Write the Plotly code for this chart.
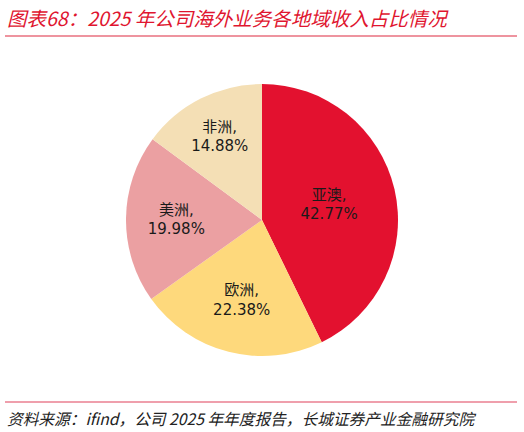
import plotly.graph_objects as go

regions = ["亚澳", "欧洲", "美洲", "非洲"]
shares = [42.77, 22.38, 19.98, 14.88]
colors = ["#E3112F", "#FED97C", "#EBA0A2", "#F4DFB5"]

W, H = 524, 432
cx, cy, r = 262, 220, 136

fig = go.Figure()
fig.add_trace(go.Pie(
    labels=regions,
    values=shares,
    text=[f"{n},<br>{v:.2f}%" for n, v in zip(regions, shares)],
    textinfo="text",
    textposition="inside",
    insidetextorientation="horizontal",
    textfont=dict(family="DejaVu Sans, Noto Sans CJK SC", size=15, color="#1a1a1a"),
    marker=dict(colors=colors, line=dict(width=0)),
    sort=False,
    direction="clockwise",
    rotation=0,
    hole=0,
    domain=dict(x=[(cx - r) / W, (cx + r) / W], y=[(H - cy - r) / H, (H - cy + r) / H]),
    showlegend=False,
))

fig.add_annotation(
    text="<i>图表68：2025 年公司海外业务各地域收入占比情况</i>",
    xref="paper", yref="paper", x=5 / W, y=1 - 17 / H,
    xanchor="left", yanchor="middle", showarrow=False,
    font=dict(family="Noto Sans CJK SC", size=19.5, color="#E0152F"),
)
fig.add_annotation(
    text="<i>资料来源：ifind，公司 2025 年年度报告，长城证券产业金融研究院</i>",
    xref="paper", yref="paper", x=5 / W, y=1 - 418 / H,
    xanchor="left", yanchor="middle", showarrow=False,
    font=dict(family="Noto Sans CJK SC", size=15.7, color="#222222"),
)
fig.add_shape(type="line", xref="paper", yref="paper",
              x0=5 / W, x1=517 / W, y0=1 - 36 / H, y1=1 - 36 / H,
              line=dict(color="#E8707F", width=1.5))
fig.add_shape(type="line", xref="paper", yref="paper",
              x0=5 / W, x1=517 / W, y0=1 - 402 / H, y1=1 - 402 / H,
              line=dict(color="#E0405A", width=1.2))

fig.update_layout(
    width=W, height=H,
    margin=dict(l=0, r=0, t=0, b=0),
    paper_bgcolor="white",
    plot_bgcolor="white",
)

fig.write_html("out.html", config={"displayModeBar": False},
               post_script="document.body.style.margin='0';")
